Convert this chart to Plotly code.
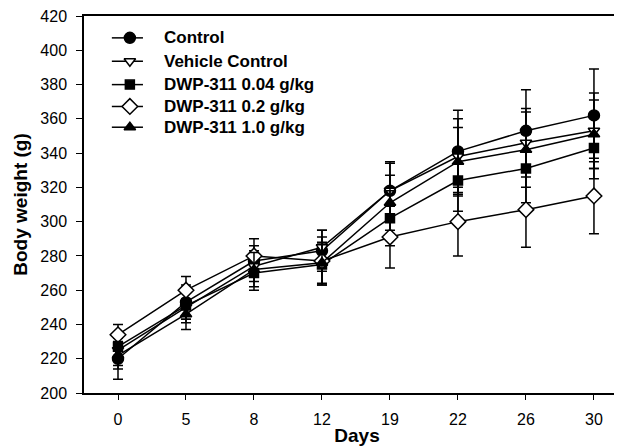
import plotly.graph_objects as go

days = ["0", "5", "8", "12", "19", "22", "26", "30"]

control = [220, 253, 277, 283, 318, 341, 353, 362]
control_err = [12, 10, 9, 12, 17, 24, 24, 27]
vehicle = [225, 250, 274, 285, 318, 338, 346, 353]
vehicle_err = [9, 9, 9, 10, 16, 22, 20, 22]
dwp004 = [227, 251, 270, 275, 302, 324, 331, 343]
dwp004_err = [8, 8, 10, 12, 16, 18, 20, 18]
dwp02 = [234, 260, 280, 277, 291, 300, 307, 315]
dwp02_err = [6, 8, 10, 14, 18, 20, 22, 22]
dwp10 = [222, 246, 272, 276, 311, 335, 342, 351]
dwp10_err = [8, 9, 10, 12, 16, 20, 22, 20]

y_ticks = [200, 220, 240, 260, 280, 300, 320, 340, 360, 380, 400, 420]

names = ["Control", "Vehicle Control", "DWP-311 0.04 g/kg", "DWP-311 0.2 g/kg", "DWP-311 1.0 g/kg"]
series = [control, vehicle, dwp004, dwp02, dwp10]
errors = [control_err, vehicle_err, dwp004_err, dwp02_err, dwp10_err]
symbols = ["circle", "triangle-down", "square", "diamond", "triangle-up"]
fills = ["black", "white", "black", "white", "black"]
sizes = [11, 10, 9, 12, 10]

# legend row positions (fractions of plot area)
legend_rows = [0.942, 0.880, 0.818, 0.760, 0.705]
legend_line_x = [0.051, 0.108]
legend_marker_x = 0.084
legend_text_x = 0.142

fig = go.Figure()
for n, s, e, sym, fc, sz in zip(names, series, errors, symbols, fills, sizes):
    fig.add_trace(go.Scatter(
        x=days, y=s, name=n, mode="lines+markers", showlegend=False,
        line=dict(color="black", width=1.5),
        marker=dict(symbol=sym, size=sz, color=fc, line=dict(color="black", width=1.5)),
        error_y=dict(type="data", array=e, visible=True, color="black", thickness=1.5, width=5),
    ))

# manual legend on hidden overlay axes
for n, sym, fc, sz, ry in zip(names, symbols, fills, sizes, legend_rows):
    fig.add_trace(go.Scatter(
        x=legend_line_x, y=[ry, ry], xaxis="x2", yaxis="y2", mode="lines",
        line=dict(color="black", width=1.5), showlegend=False, hoverinfo="skip"))
    fig.add_trace(go.Scatter(
        x=[legend_marker_x], y=[ry], xaxis="x2", yaxis="y2", mode="markers",
        marker=dict(symbol=sym, size=sz, color=fc, line=dict(color="black", width=1.5)),
        showlegend=False, hoverinfo="skip"))
    fig.add_annotation(x=legend_text_x, y=ry, xref="paper", yref="paper", text="<b>" + n + "</b>",
                       showarrow=False, xanchor="left", yanchor="middle",
                       font=dict(size=17, family="Liberation Sans, Arial, sans-serif", color="black"))

fig.update_layout(
    width=622, height=447,
    margin=dict(l=76, r=0, t=8, b=62),
    plot_bgcolor="white", paper_bgcolor="white",
    font=dict(family="Liberation Sans, Arial, sans-serif", size=16, color="black"),
    showlegend=False,
    xaxis=dict(type="category", range=[-0.5, 7.53], showline=True, linecolor="black", linewidth=1.5,
               mirror=True, ticks="outside", ticklen=5, tickcolor="black", showgrid=False,
               ticklabelstandoff=6,
               title=dict(text="<b>Days</b>", standoff=2, font=dict(size=19))),
    yaxis=dict(range=[200, 420], tickmode="array", tickvals=y_ticks, showline=True,
               linecolor="black", linewidth=1.5, ticklabeloverflow="allow",
               ticks="outside", ticklen=6, tickcolor="black", showgrid=False, zeroline=False,
               ticklabelstandoff=6,
               title=dict(text="<b>Body weight (g)</b>", standoff=8, font=dict(size=19))),
    xaxis2=dict(overlaying="x", range=[0, 1], visible=False, fixedrange=True),
    yaxis2=dict(overlaying="y", range=[0, 1], visible=False, fixedrange=True),
)

fig.write_html("out.html")
